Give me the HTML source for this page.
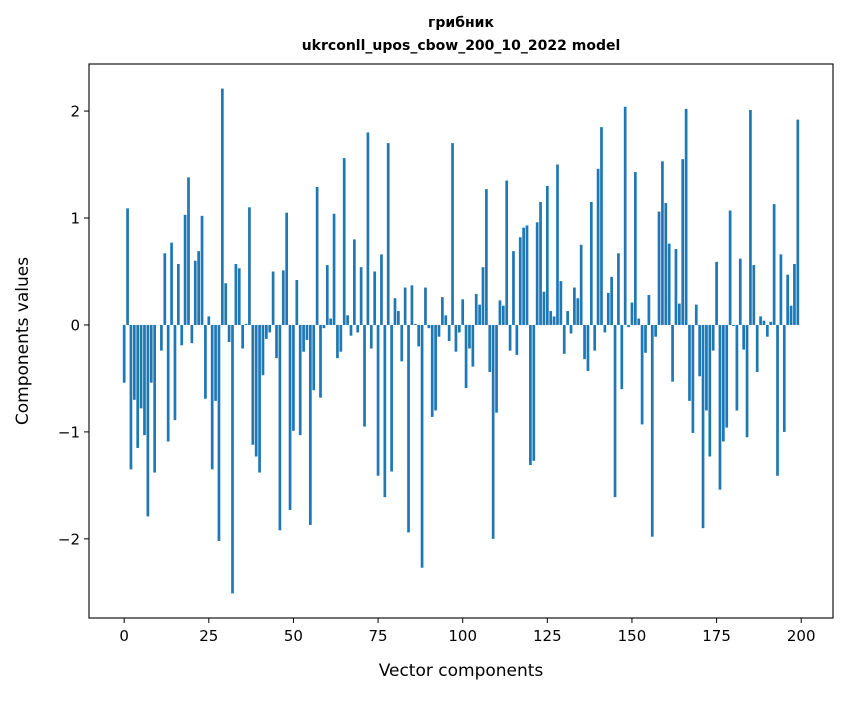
<!DOCTYPE html>
<html><head><meta charset="utf-8"><style>
body{margin:0;background:#fff;}
svg text{font-family:"DejaVu Sans","Liberation Sans",sans-serif;fill:#000;}
</style></head><body>
<svg id="chart" width="847" height="696" xmlns="http://www.w3.org/2000/svg">
<rect width="847" height="696" fill="#fff"/>
<text x="461" y="27" text-anchor="middle" font-size="14" font-weight="bold">грибник</text>
<text x="461" y="50" text-anchor="middle" font-size="14" font-weight="bold">ukrconll_upos_cbow_200_10_2022 model</text>
<g id="bars"></g>
<g id="axes"></g>
<text x="461" y="676" text-anchor="middle" font-size="17">Vector components</text>
<text transform="translate(28,341) rotate(-90)" text-anchor="middle" font-size="17">Components values</text>
</svg>
<script>
const values1 = [-0.54,1.09,-1.35,-0.70,-1.15,-0.78,-1.03,-1.79,-0.54,-1.38,0.0,-0.24,0.67,-1.09,0.77,-0.89,0.57,-0.19,1.03,1.38,-0.17,0.60,0.69,1.02,-0.69,0.08,-1.35,-0.71,-2.02,2.21,0.39,-0.16,-2.51,0.57,0.53,-0.22,0.01,1.10,-1.12,-1.23,-1.38,-0.47,-0.13,-0.07,0.50,-0.31,-1.92,0.51,1.05,-1.73];
const values2 = [-0.99,0.42,-1.03,-0.25,-0.14,-1.87,-0.61,1.29,-0.68,-0.03,0.56,0.06,1.04,-0.31,-0.25,1.56,0.09,-0.10,0.80,-0.07,0.54,-0.95,1.80,-0.22,0.50,-1.41,0.66,-1.61,1.70,-1.37,0.25,0.13,-0.34,0.35,-1.94,0.37,0.01,-0.20,-2.27,0.35,-0.03,-0.86,-0.80,-0.11,0.26,0.09,-0.15,1.70,-0.25,-0.07];
const values3 = [0.24,-0.59,-0.22,-0.39,0.29,0.19,0.54,1.27,-0.44,-2.00,-0.82,0.23,0.18,1.35,-0.24,0.69,-0.28,0.82,0.91,0.93,-1.31,-1.27,0.96,1.15,0.31,1.30,0.13,0.08,1.50,0.41,-0.27,0.13,-0.08,0.35,0.25,0.75,-0.32,-0.43,1.15,-0.24,1.46,1.85,-0.07,0.30,0.45,-1.61,0.67,-0.60,2.04,-0.02];
const values4 = [0.21,1.43,0.06,-0.93,-0.26,0.28,-1.98,-0.11,1.06,1.53,1.14,0.76,-0.53,0.71,0.20,1.55,2.02,-0.71,-1.01,0.19,-0.48,-1.90,-0.80,-1.23,-0.24,0.59,-1.54,-1.09,-0.96,1.07,-0.01,-0.80,0.62,-0.23,-1.05,2.01,0.56,-0.44,0.08,0.04,-0.11,0.03,1.13,-1.41,0.66,-1.00,0.47,0.18,0.57,1.92];
const values = values1.concat(values2, values3, values4);
const xTicks = [0,25,50,75,100,125,150,175,200];
const yTicks = [-2,-1,0,1,2];

const NS = "http://www.w3.org/2000/svg";
const L = 89, R = 833, T = 64, B = 618;
const xMin = -10.39, xMax = 209.39;
const yTop = 2.44, yBot = -2.74;
function xs(v){ return L + (v - xMin) / (xMax - xMin) * (R - L); }
function ys(v){ return T + (yTop - v) / (yTop - yBot) * (B - T); }

const bars = document.getElementById('bars');
values.forEach((v, i) => {
  const r = document.createElementNS(NS, 'rect');
  const x0 = xs(i - 0.4), x1 = xs(i + 0.4);
  const y0 = ys(Math.max(v, 0)), y1 = ys(Math.min(v, 0));
  r.setAttribute('x', x0);
  r.setAttribute('width', x1 - x0);
  r.setAttribute('y', y0);
  r.setAttribute('height', Math.max(y1 - y0, 0));
  r.setAttribute('fill', '#1f77b4');
  
  
  bars.appendChild(r);
});

const axes = document.getElementById('axes');
const frame = document.createElementNS(NS, 'rect');
frame.setAttribute('x', L); frame.setAttribute('y', T);
frame.setAttribute('width', R - L); frame.setAttribute('height', B - T);
frame.setAttribute('fill', 'none'); frame.setAttribute('stroke', '#000'); frame.setAttribute('stroke-width', '1.1');


axes.appendChild(frame);

xTicks.forEach(t => {
  const x = xs(t);
  const ln = document.createElementNS(NS, 'line');
  ln.setAttribute('x1', x); ln.setAttribute('x2', x); ln.setAttribute('y1', B); ln.setAttribute('y2', B + 5);
  ln.setAttribute('stroke', '#000');
  
  
  axes.appendChild(ln);
  const tx = document.createElementNS(NS, 'text');
  tx.setAttribute('x', x); tx.setAttribute('y', B + 23); tx.setAttribute('text-anchor', 'middle'); tx.setAttribute('font-size', '15');
  tx.textContent = String(t);
  
  
  axes.appendChild(tx);
});
yTicks.forEach(t => {
  const y = ys(t);
  const ln = document.createElementNS(NS, 'line');
  ln.setAttribute('x1', L - 5); ln.setAttribute('x2', L); ln.setAttribute('y1', y); ln.setAttribute('y2', y);
  ln.setAttribute('stroke', '#000');
  
  
  axes.appendChild(ln);
  const tx = document.createElementNS(NS, 'text');
  tx.setAttribute('x', L - 9); tx.setAttribute('y', y + 5.5); tx.setAttribute('text-anchor', 'end'); tx.setAttribute('font-size', '15');
  tx.textContent = t < 0 ? '\u2212' + Math.abs(t) : String(t);
  
  
  axes.appendChild(tx);
});
</script>
</body></html>
